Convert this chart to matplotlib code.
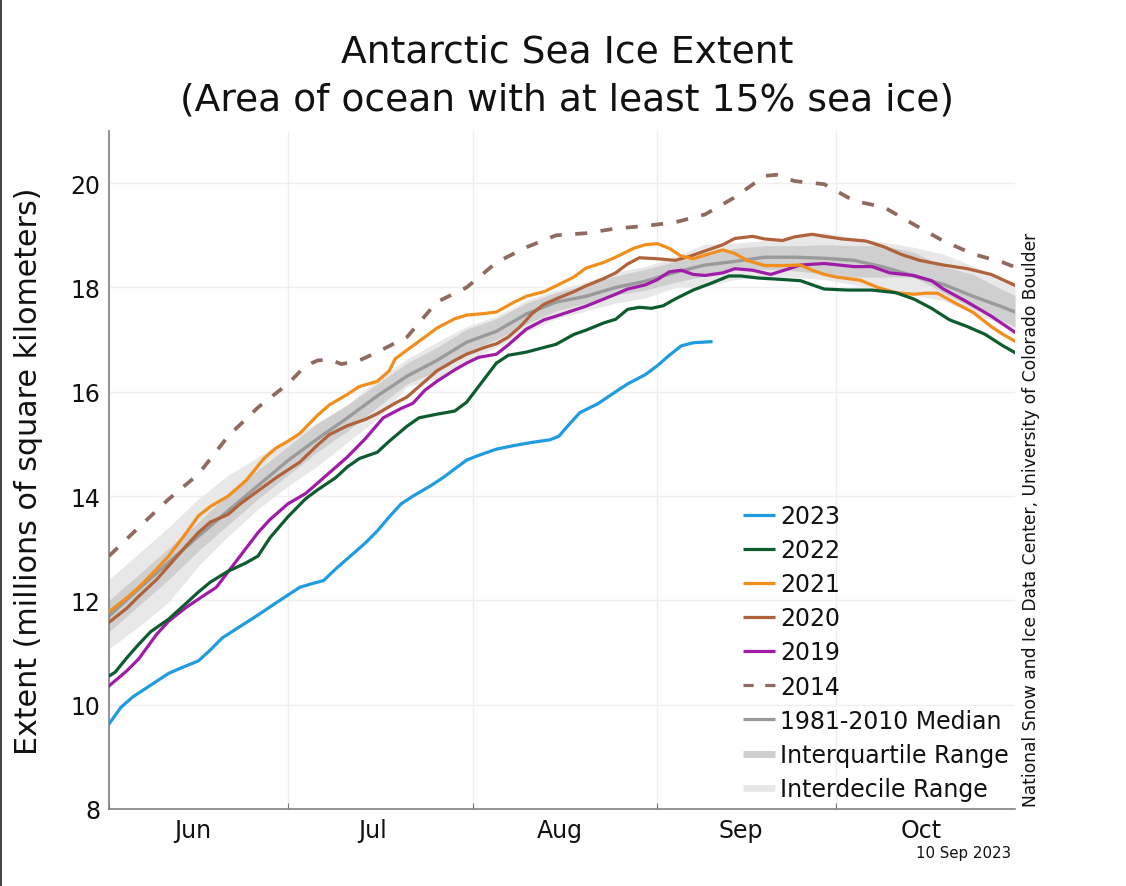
import matplotlib
matplotlib.use("Agg")
import matplotlib.pyplot as plt
from matplotlib.lines import Line2D

band_days = list(range(0, 151, 5)) + [152]

d2023 = [0,2,4,6,8,10,12,15,17,19,22,25,28,30,32,34,36,38,40,43,45,47,49,51,54,56,58,60,62,65,68,71,74,75.5,77,79,82,85,87,90,92,94,96,98,101]
y2023 = [9.63,9.95,10.15,10.3,10.45,10.6,10.7,10.84,11.05,11.28,11.5,11.72,11.95,12.1,12.25,12.32,12.38,12.6,12.8,13.1,13.33,13.6,13.85,14.0,14.2,14.35,14.52,14.69,14.78,14.9,14.97,15.03,15.08,15.15,15.35,15.6,15.77,16.0,16.15,16.33,16.5,16.7,16.88,16.94,16.96]

d2022 = [0,1,3,5,7,10,13,15,17,20,23,25,27,30,33,35,38,40,42,45,47,50,52,55,58,60,62,65,67,70,73,75,78,80,83,85,87,89,91,93,95,98,101,104,106,109,112,116,118,120,124,128,132,135,138,141,144,147,150,152]
y2022 = [10.55,10.62,10.9,11.16,11.4,11.64,11.95,12.16,12.35,12.56,12.72,12.85,13.2,13.6,13.95,14.12,14.35,14.56,14.72,14.84,15.05,15.34,15.5,15.57,15.63,15.8,16.1,16.55,16.7,16.76,16.85,16.91,17.1,17.18,17.32,17.39,17.58,17.62,17.6,17.65,17.78,17.95,18.08,18.22,18.22,18.18,18.16,18.13,18.05,17.97,17.95,17.95,17.9,17.78,17.6,17.38,17.25,17.1,16.88,16.75]

d2021 = [0,3,5,8,10,13,15,17,20,23,26,28,30,32,35,37,40,42,45,47,48,50,53,55,58,60,63,65,68,70,73,75,78,80,83,85,88,90,92,94,96,98,100,103,105,107,110,113,116,118,120,122,126,129,132,135,137,139,142,145,148,150,152]
y2021 = [11.78,12.05,12.25,12.6,12.85,13.3,13.62,13.8,14.0,14.3,14.72,14.92,15.05,15.2,15.55,15.75,15.95,16.1,16.2,16.4,16.63,16.8,17.05,17.22,17.4,17.47,17.5,17.53,17.72,17.83,17.92,18.03,18.2,18.37,18.48,18.58,18.75,18.82,18.84,18.75,18.6,18.55,18.62,18.72,18.65,18.52,18.42,18.42,18.43,18.33,18.25,18.2,18.14,18.0,17.9,17.87,17.89,17.89,17.7,17.52,17.25,17.1,16.97]

d2020 = [0,3,5,8,10,13,15,17,20,22,25,28,30,32,35,37,40,43,45,48,50,53,55,58,60,63,65,67,69,71,73,75,78,80,83,85,87,89,92,95,97,100,103,105,108,110,113,115,118,120,123,127,130,133,136,140,144,148,152]
y2020 = [11.58,11.85,12.08,12.4,12.66,13.05,13.3,13.5,13.65,13.85,14.1,14.35,14.5,14.65,14.98,15.18,15.35,15.47,15.58,15.78,15.9,16.2,16.4,16.6,16.72,16.85,16.92,17.05,17.25,17.5,17.68,17.78,17.92,18.03,18.17,18.28,18.45,18.57,18.55,18.52,18.58,18.7,18.82,18.94,18.98,18.93,18.9,18.97,19.02,18.98,18.93,18.89,18.78,18.63,18.52,18.43,18.36,18.25,18.04]

d2019 = [0,3,5,8,10,13,16,18,20,23,25,27,30,33,35,38,40,43,46,49,51,53,55,58,60,62,65,67,70,73,75,80,85,87,90,92,94,96,98,100,103,105,108,111,113,116,120,125,128,131,135,138,140,144,148,152]
y2019 = [10.36,10.65,10.88,11.35,11.6,11.87,12.1,12.25,12.55,13.0,13.3,13.55,13.85,14.05,14.25,14.55,14.75,15.1,15.5,15.68,15.78,16.03,16.2,16.42,16.55,16.66,16.72,16.9,17.2,17.38,17.45,17.64,17.87,17.97,18.05,18.15,18.3,18.33,18.25,18.23,18.28,18.36,18.33,18.25,18.32,18.43,18.46,18.4,18.4,18.28,18.23,18.13,17.97,17.72,17.45,17.14]

d2014 = [0,5,10,15,20,25,30,33,35,37,39,42,45,50,55,60,65,70,75,80,85,90,95,100,105,110,112,115,120,125,130,135,140,145,150,152]
y2014 = [12.85,13.4,13.94,14.42,15.15,15.7,16.15,16.5,16.6,16.62,16.53,16.6,16.76,17.05,17.72,18.0,18.48,18.77,19.0,19.04,19.13,19.18,19.25,19.4,19.73,20.14,20.16,20.04,19.98,19.66,19.54,19.21,18.89,18.64,18.48,18.39]

median = [11.7,12.22,12.73,13.23,13.72,14.2,14.68,15.1,15.5,15.92,16.3,16.6,16.95,17.16,17.49,17.72,17.83,18.0,18.12,18.29,18.43,18.5,18.58,18.58,18.56,18.52,18.39,18.22,18.06,17.83,17.62,17.53]
idr_hi = [12.4,12.9,13.4,13.95,14.4,14.75,15.1,15.4,15.75,16.24,16.63,16.95,17.25,17.45,17.75,17.95,18.1,18.3,18.4,18.6,18.83,18.85,18.9,18.95,19.05,18.95,18.87,18.77,18.64,18.41,18.16,18.12]
idr_lo = [11.07,11.5,11.97,12.66,13.23,13.75,14.19,14.58,15.03,15.48,16.1,16.25,16.6,16.85,17.15,17.4,17.55,17.7,17.8,18.0,18.02,18.15,18.2,18.2,18.15,18.05,17.95,17.85,17.75,17.5,17.3,17.15]
iqr_hi = [12.0,12.5,13.0,13.5,14.05,14.5,14.95,15.4,15.75,16.15,16.55,16.85,17.2,17.4,17.7,17.9,18.05,18.22,18.35,18.5,18.6,18.75,18.8,18.8,18.82,18.8,18.8,18.68,18.4,18.25,17.95,17.85]
iqr_lo = [11.4,11.9,12.4,12.95,13.45,13.95,14.4,14.85,15.25,15.7,16.15,16.4,16.75,17.0,17.3,17.55,17.7,17.85,17.95,18.1,18.22,18.35,18.35,18.32,18.25,18.2,18.2,18.2,17.9,17.6,17.35,17.25]

month_starts = [0, 30, 61, 92, 122]
month_mids = [14, 44.2, 75.7, 106, 136.2]
month_labels = ["Jun", "Jul", "Aug", "Sep", "Oct"]
y_ticks = [8, 10, 12, 14, 16, 18, 20]

W, H = 1126, 887
plt.rcParams["font.family"] = "DejaVu Sans"
fig = plt.figure(figsize=(W / 100, H / 100), dpi=100)
ax = fig.add_axes([109 / W, 1 - 810 / H, (1015 - 109) / W, (810 - 132) / H])

ax.fill_between(band_days, idr_lo, idr_hi, color="#e8e8e8", lw=0, zorder=1)
ax.fill_between(band_days, iqr_lo, iqr_hi, color="#cfcfcf", lw=0, zorder=1.5)
ax.plot(band_days, median, color="#9a9a9a", lw=2.4, zorder=2)

lw = 2.3
ax.plot(d2014, y2014, color="#8f6a5f", lw=lw + 0.4, dashes=(3.2, 3.6), zorder=3)
ax.plot(d2019, y2019, color="#a01ba8", lw=lw, zorder=3.1)
ax.plot(d2020, y2020, color="#b0623a", lw=lw, zorder=3.2)
ax.plot(d2021, y2021, color="#f28e1c", lw=lw, zorder=3.3)
ax.plot(d2022, y2022, color="#0d5c2f", lw=lw, zorder=3.4)
ax.plot(d2023, y2023, color="#1f9be0", lw=lw, zorder=3.5)

ax.set_xlim(0, 152)
ax.set_ylim(8, 21)
ax.set_xticks(month_starts)
ax.set_xticklabels([])
ax.set_xticks(month_mids, minor=True)
ax.set_xticklabels(month_labels, minor=True, fontsize=17, color="#111111")
ax.set_yticks(y_ticks)
ax.tick_params(axis="x", which="major", direction="in", length=4, width=0.8, color="#777777")
ax.tick_params(axis="x", which="minor", length=0, pad=6.5)
ax.tick_params(axis="y", length=0, labelsize=17, labelcolor="#111111", pad=6)
ax.grid(True, which="major", color="#efefef", lw=1)
ax.set_axisbelow(True)
for s in ("top", "right"):
    ax.spines[s].set_visible(False)
for s in ("left", "bottom"):
    ax.spines[s].set_color("#808080")
    ax.spines[s].set_linewidth(1.2)

handles = [
    Line2D([], [], color="#1f9be0", lw=lw, solid_capstyle="butt"),
    Line2D([], [], color="#0d5c2f", lw=lw, solid_capstyle="butt"),
    Line2D([], [], color="#f28e1c", lw=lw, solid_capstyle="butt"),
    Line2D([], [], color="#b0623a", lw=lw, solid_capstyle="butt"),
    Line2D([], [], color="#a01ba8", lw=lw, solid_capstyle="butt"),
    Line2D([], [], color="#8f6a5f", lw=lw, dashes=(3.2, 3.6)),
    Line2D([], [], color="#9a9a9a", lw=lw, solid_capstyle="butt"),
    Line2D([], [], color="#cfcfcf", lw=5, solid_capstyle="butt"),
    Line2D([], [], color="#e8e8e8", lw=5, solid_capstyle="butt"),
]
labels = ["2023", "2022", "2021", "2020", "2019", "2014",
          "1981-2010 Median", "Interquartile Range", "Interdecile Range"]
leg = ax.legend(handles, labels, loc="lower left",
                bbox_to_anchor=(743 / W, 1 - 802 / H), bbox_transform=fig.transFigure,
                frameon=False, fontsize=17, handlelength=1.36, handletextpad=0.2,
                labelspacing=0.43, borderaxespad=0, borderpad=0, labelcolor="#111111")
leg.set_zorder(5)

fig.text(567 / W, 1 - 76.5 / H, "Antarctic Sea Ice Extent\n(Area of ocean with at least 15% sea ice)",
         ha="center", va="center", fontsize=27.1, linespacing=1.42, color="#111111")
fig.text(29 / W, 1 - 471 / H, "Extent (millions of square kilometers)",
         rotation=90, ha="center", va="center", fontsize=21.7, color="#111111")
fig.text(1031 / W, 1 - 807 / H, "National Snow and Ice Data Center, University of Colorado Boulder",
         rotation=90, ha="center", va="bottom", fontsize=12.3, color="#111111")
fig.text(1011 / W, 1 - 854 / H, "10 Sep 2023", ha="right", va="center", fontsize=10.8, color="#111111")
fig.add_artist(Line2D([0.7 / W, 0.7 / W], [0, 1], color="#222222", lw=1.2))

fig.savefig("out.png", dpi=100)
